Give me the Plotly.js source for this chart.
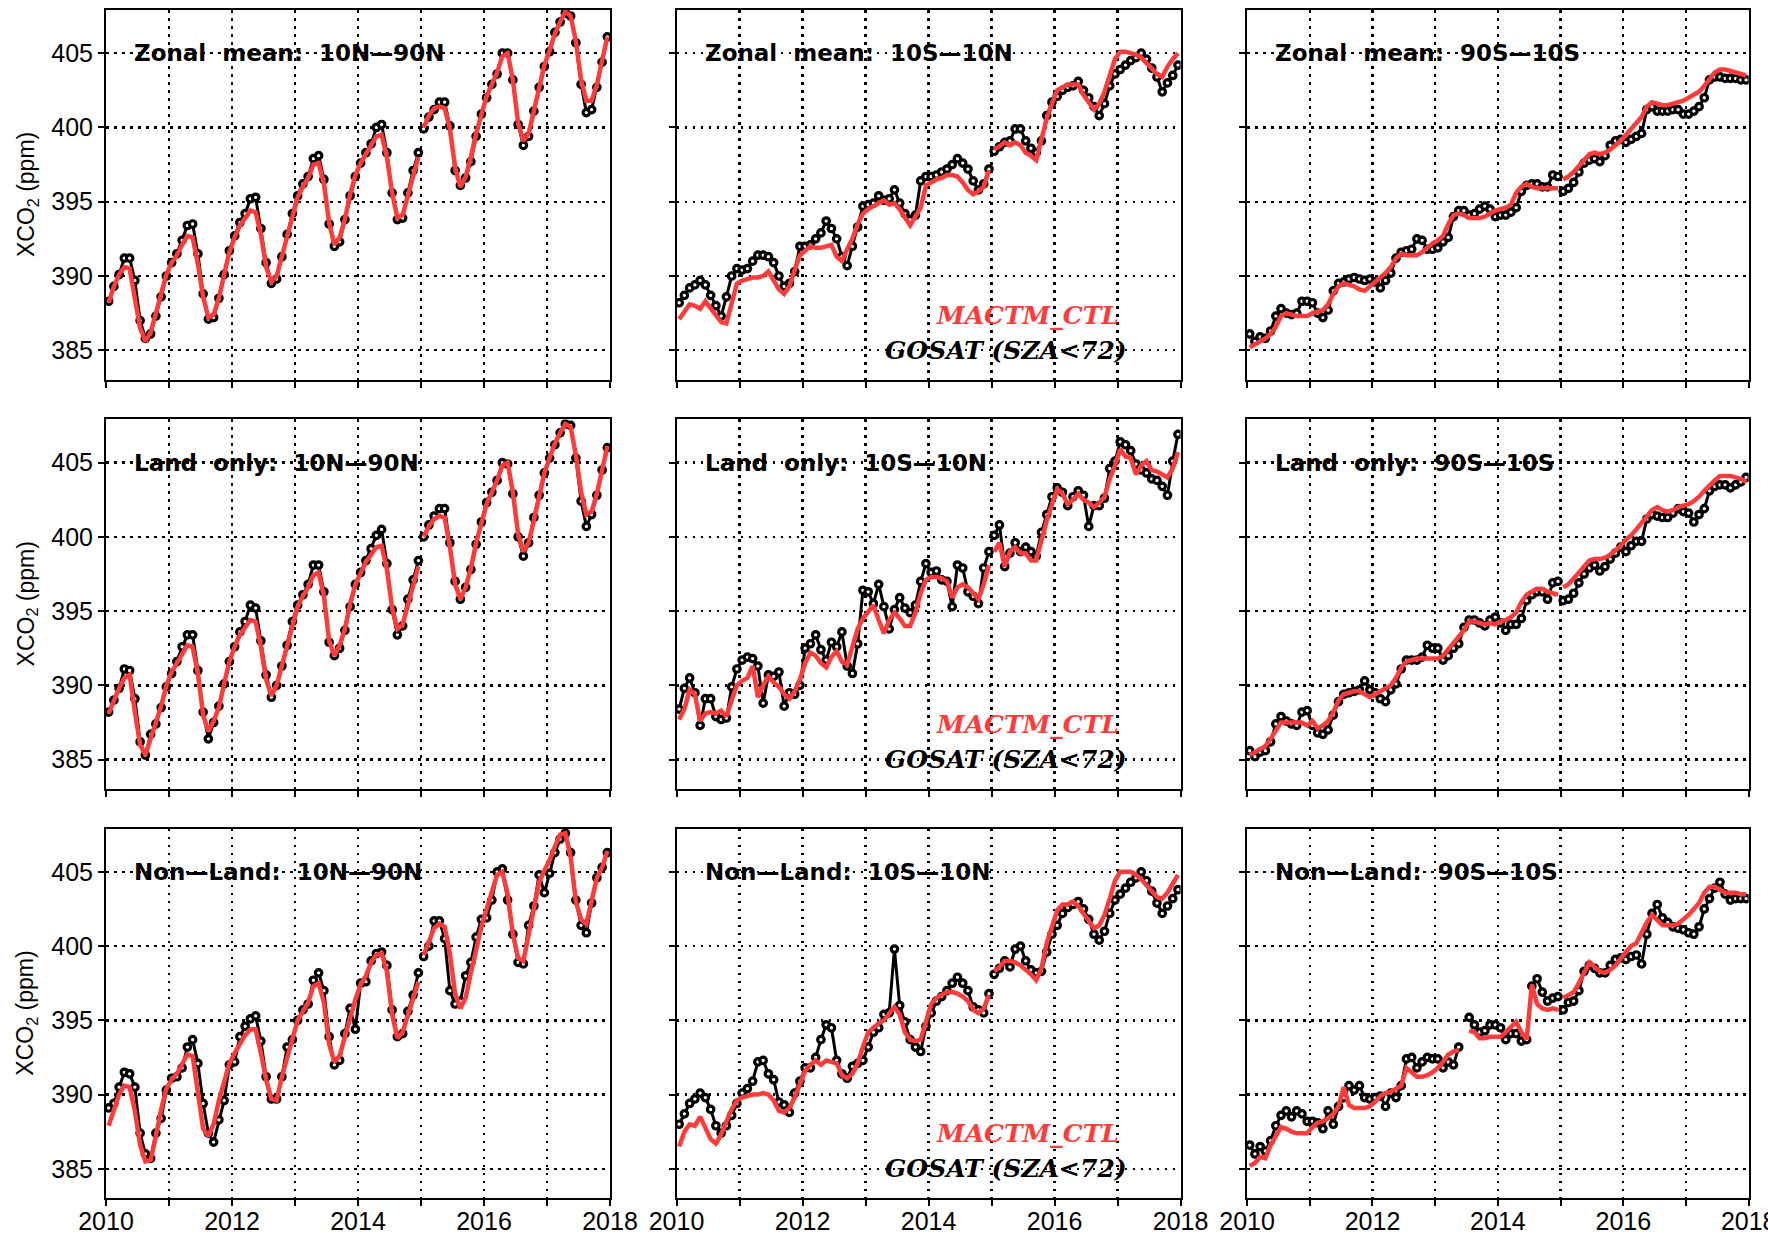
<!DOCTYPE html>
<html><head><meta charset="utf-8">
<script src="https://cdn.plot.ly/plotly-3.0.1.min.js"></script>
<style>html,body{margin:0;padding:0;background:#fff}#chart{width:1768px;height:1238px}</style>
</head><body><div id="chart"></div>
<script>
// ---- Data: monthly XCO2 (ppm), Jan 2010 .. Dec 2017 ----
const gZonNH = [
388.3,389.3,390.1,391.2,391.2,389.7,387.0,385.8,386.1,387.3,388.6,390.0,
390.9,391.5,392.4,393.4,393.5,391.5,388.8,387.1,387.2,388.5,390.1,391.7,
392.7,393.6,394.2,395.2,395.3,393.2,390.9,389.5,389.8,391.3,392.8,394.2,
395.4,396.2,396.7,397.9,398.1,396.5,393.5,392.0,392.3,393.8,395.4,396.7,
397.6,398.3,398.9,400.0,400.2,398.3,395.6,393.8,393.9,395.6,397.1,398.3,
399.9,400.7,401.2,401.7,401.7,400.1,397.1,396.1,396.6,397.7,399.4,400.9,
402.0,402.9,403.6,405.0,405.0,403.2,400.2,398.8,399.4,401.1,402.7,404.1,
405.1,406.4,407.1,407.7,407.5,405.7,402.9,401.0,401.2,402.7,404.4,406.1];
const mZonNH = [
388.2,389.3,390.1,390.6,390.5,388.5,386.5,385.6,386.2,387.5,388.8,390.1,
390.9,391.4,392.1,392.7,392.6,390.8,388.6,387.2,387.4,388.5,390.1,391.6,
392.6,393.4,393.9,394.4,394.3,392.8,390.6,389.6,390.0,391.3,392.8,394.1,
395.3,396.0,396.6,397.5,397.6,396.2,393.6,392.1,392.6,393.8,395.5,396.8,
397.6,398.2,398.8,399.4,399.5,398.0,395.6,393.9,394.1,395.5,396.9,398.0,
400.0,400.8,401.3,401.4,401.3,399.9,397.3,396.0,396.7,398.0,399.6,401.0,
402.1,402.9,403.7,404.8,405.0,403.2,400.3,399.1,399.6,401.1,402.8,404.2,
405.2,406.3,407.1,407.8,407.5,405.8,403.2,401.8,401.8,402.9,404.5,406.1];
const gZonTR = [
388.2,388.7,389.2,389.4,389.7,389.4,388.7,388.0,387.3,388.6,390.0,390.5,
390.4,390.5,391.0,391.4,391.4,391.3,390.9,390.0,389.3,389.5,390.3,392.0,
392.0,392.1,392.5,392.9,393.7,393.2,392.5,391.3,390.7,392.0,393.3,394.7,
394.8,394.9,395.4,395.1,395.2,395.8,394.9,394.2,393.8,394.1,396.4,396.7,
396.7,396.8,397.0,397.2,397.5,397.9,397.6,397.2,396.4,395.8,396.2,397.2,
398.4,398.7,399.0,399.1,399.9,399.9,399.1,398.6,398.3,399.1,400.8,401.7,
402.1,402.5,402.7,402.8,403.1,402.5,402.0,401.4,400.8,401.6,402.8,403.6,
403.9,404.2,404.5,404.7,405.0,404.6,404.0,403.4,402.4,403.0,403.5,404.2];
const mZonTR = [
387.1,387.6,388.1,388.0,387.8,388.3,387.8,387.3,386.9,386.8,388.2,389.5,
389.7,389.8,389.9,389.9,390.0,390.3,389.7,389.1,388.8,389.3,390.4,391.4,
391.7,392.0,391.9,391.9,392.0,392.1,391.3,391.0,391.8,392.5,393.5,394.2,
394.5,394.7,394.9,395.1,394.8,394.9,394.5,393.9,393.4,394.0,394.6,396.1,
396.3,396.5,396.6,396.8,396.8,396.7,396.3,395.8,395.5,395.7,396.0,397.1,
398.5,398.8,399.0,398.8,399.0,398.8,398.3,398.1,397.8,399.2,400.6,401.6,
402.5,402.7,402.9,402.9,402.9,402.2,401.7,401.2,401.6,402.4,403.5,404.6,
405.1,405.1,405.0,404.9,404.7,404.3,403.9,403.6,403.4,404.1,404.6,405.0];
const gZonSH = [
386.1,385.6,385.9,385.8,386.3,387.3,387.8,387.5,387.4,387.5,388.3,388.3,
388.2,387.5,387.2,387.7,389.0,389.5,389.6,389.8,389.9,389.8,389.7,389.8,
389.6,389.2,389.7,390.2,391.2,391.6,391.7,391.8,392.5,392.4,391.8,391.8,
391.9,392.3,392.6,394.0,394.4,394.4,394.1,394.2,394.5,394.7,394.5,394.0,
394.1,394.1,394.3,394.6,395.7,396.1,396.2,396.2,396.0,396.0,396.8,396.7,
395.7,395.9,396.3,397.0,397.6,397.8,397.9,397.7,398.1,398.8,399.1,399.2,
399.0,399.2,399.4,399.6,401.2,401.4,401.1,401.1,401.1,401.2,401.2,400.9,
400.9,401.1,401.4,402.0,403.2,403.4,403.4,403.3,403.3,403.3,403.2,403.2];
const mZonSH = [
385.2,385.4,385.6,385.8,386.1,386.6,387.3,387.5,387.4,387.3,387.3,387.3,
387.5,387.6,387.7,388.1,388.8,389.3,389.5,389.4,389.3,389.1,389.0,389.3,
389.6,389.9,390.2,390.6,391.2,391.5,391.4,391.4,391.4,391.6,391.9,392.2,
392.4,392.7,393.5,394.1,394.2,394.1,393.9,393.9,393.9,394.0,394.2,394.4,
394.5,394.6,394.8,395.6,396.0,396.2,396.0,395.9,395.9,395.9,395.9,395.9,
396.5,396.7,397.0,397.4,397.8,398.2,398.3,398.2,398.3,398.5,398.8,399.1,
399.5,399.9,400.3,400.7,401.4,401.7,401.6,401.5,401.5,401.6,401.7,401.8,
402.0,402.2,402.4,402.8,403.3,403.7,403.9,403.9,403.8,403.7,403.6,403.5];
const gLndNH = [
388.2,389.0,389.8,391.1,391.0,389.1,386.2,385.3,386.7,387.4,388.5,389.9,
390.8,391.6,392.6,393.4,393.4,391.0,388.2,386.4,387.5,388.6,390.1,391.6,
392.6,393.6,394.3,395.4,395.2,393.0,390.7,389.2,390.0,391.3,392.7,394.3,
395.4,396.1,396.8,398.1,398.1,396.3,392.9,392.0,392.5,393.7,395.3,396.8,
397.6,398.4,399.2,400.1,400.5,398.2,395.1,393.4,394.0,395.8,397.1,398.4,
400.0,400.8,401.4,401.9,401.9,399.6,397.0,395.8,396.6,397.8,399.5,401.0,
402.3,403.0,403.8,405.0,404.9,402.9,400.0,398.7,399.6,401.3,402.8,404.3,
405.3,406.2,407.0,407.6,407.5,405.3,402.4,400.7,401.5,402.8,404.5,406.0];
const mLndNH = [
388.1,389.0,389.8,390.5,390.7,388.2,386.0,385.3,386.4,387.5,388.6,390.0,
390.9,391.5,392.1,392.7,392.6,390.8,388.0,386.9,387.6,388.5,390.1,391.6,
392.6,393.4,393.9,394.4,394.3,392.6,390.4,389.3,390.0,391.3,392.8,394.1,
395.3,396.0,396.6,397.4,397.6,396.0,393.0,392.0,392.7,393.8,395.5,396.8,
397.6,398.3,398.8,399.3,399.4,397.8,395.2,393.8,394.1,395.5,396.9,398.0,
400.0,400.7,401.2,401.4,401.3,399.3,396.8,395.8,396.6,397.9,399.6,401.0,
402.2,403.0,403.8,404.8,405.0,403.0,400.2,399.0,399.6,401.1,402.8,404.3,
405.3,406.3,407.0,407.6,407.4,405.5,403.0,401.5,401.7,402.9,404.5,406.1];
const gLndTR = [
388.4,389.8,390.5,389.5,387.3,389.1,389.1,387.9,387.7,387.8,389.9,391.1,
391.7,391.9,391.8,391.3,388.8,390.7,390.6,390.9,388.6,389.5,389.4,390.0,
392.5,392.8,393.4,392.4,391.7,392.9,392.6,393.6,391.3,390.8,392.8,396.4,
396.3,395.5,396.8,395.3,393.8,395.1,395.9,395.2,394.9,395.4,397.0,398.2,
397.6,397.7,397.1,397.0,395.3,398.1,397.9,396.3,396.0,395.5,397.9,399.0,
400.1,400.8,398.0,398.9,399.6,399.0,399.3,399.0,398.7,400.3,401.5,402.7,
403.3,403.0,402.1,402.7,403.1,402.8,400.7,402.1,402.1,402.6,404.6,405.1,
406.4,406.2,405.8,404.9,404.5,404.3,403.9,403.8,403.4,402.8,405.1,406.9];
const mLndTR = [
387.7,388.4,389.7,389.4,387.6,388.1,388.2,388.1,388.3,387.9,389.0,390.0,
390.3,390.5,391.3,389.2,390.0,390.6,390.2,389.9,389.4,389.1,389.6,390.4,
391.5,392.2,392.0,391.5,391.2,391.9,392.3,391.6,391.4,392.5,393.8,394.5,
394.9,395.4,394.4,393.5,394.4,394.9,394.5,394.0,394.0,394.9,396.2,397.1,
397.3,397.3,397.2,397.0,395.9,396.6,396.8,396.6,396.2,395.8,396.8,398.1,
399.0,399.6,398.0,399.0,399.3,398.9,398.9,398.4,398.4,399.8,401.1,402.2,
403.2,402.9,402.2,402.5,402.9,402.5,402.3,402.0,402.3,402.7,403.9,404.8,
405.9,405.4,405.3,404.2,404.8,405.1,404.5,404.4,404.2,404.0,404.6,405.7];
const gLndSH = [
385.6,385.2,385.5,385.6,386.2,387.4,387.9,387.6,387.4,387.3,388.2,388.3,
387.3,386.8,386.7,387.0,388.0,388.9,389.4,389.5,389.6,389.7,390.3,389.7,
389.5,389.1,388.9,389.7,390.1,391.1,391.7,391.7,391.7,391.9,392.7,392.5,
392.5,391.7,392.0,392.5,392.8,393.9,394.4,394.4,394.2,394.0,394.4,394.6,
394.2,393.7,394.1,394.1,394.5,395.7,396.1,396.3,396.3,395.8,396.9,397.0,
395.7,395.8,396.2,396.9,397.5,397.9,398.1,397.7,398.0,398.5,398.9,399.3,
399.0,399.4,399.7,399.7,401.2,401.5,401.4,401.3,401.3,401.6,401.9,401.7,
401.6,401.0,401.5,401.9,403.1,403.4,403.5,403.5,403.3,403.5,403.7,404.0];
const mLndSH = [
385.3,385.5,385.7,385.9,386.4,387.0,387.5,387.5,387.5,387.5,387.5,387.3,
387.6,387.1,387.3,387.6,388.2,389.0,389.4,389.5,389.6,389.6,389.4,389.2,
389.4,389.6,389.8,390.0,390.5,391.2,391.6,391.7,391.8,391.8,391.8,391.8,
391.8,392.0,392.4,392.8,393.2,393.7,394.3,394.3,394.2,394.1,394.2,394.1,
394.3,394.4,394.6,394.9,395.6,396.1,396.3,396.5,396.5,396.3,396.2,396.1,
396.6,396.8,397.2,397.6,398.0,398.4,398.5,398.5,398.6,398.8,399.1,399.4,
399.8,400.1,400.5,400.9,401.4,401.8,402.0,401.8,401.7,401.8,402.0,402.1,
402.2,402.4,402.7,403.1,403.5,403.8,404.1,404.1,404.1,404.0,403.9,403.7];
const gNonNH = [
389.1,389.4,390.5,391.5,391.4,390.5,387.4,386.0,385.7,387.4,388.4,390.3,
391.1,391.2,391.8,393.2,393.7,392.1,389.4,387.4,386.8,388.3,389.6,392.0,
392.2,393.9,394.6,395.1,395.3,393.6,391.2,389.7,389.7,391.2,393.2,393.7,
395.0,395.7,396.1,397.7,398.2,397.0,393.9,392.0,392.3,394.1,395.8,394.4,
397.5,397.6,399.0,399.5,399.6,398.7,395.7,393.9,394.1,395.6,396.7,398.2,
399.3,400.0,401.7,401.7,400.5,397.0,396.1,396.3,398.0,398.9,400.6,401.8,
401.9,403.1,405.0,405.2,403.1,400.8,398.9,398.8,401.4,402.7,404.8,403.6,
404.9,406.3,407.2,407.6,406.3,403.1,401.4,400.9,402.9,404.6,405.3,406.3];
const mNonNH = [
387.9,388.9,390.0,390.6,390.5,388.9,386.6,385.5,385.6,387.2,389.0,390.4,
391.0,391.4,392.0,392.7,392.6,390.3,387.7,387.2,388.0,389.6,391.0,392.1,
392.8,393.4,394.0,394.4,394.4,392.8,391.0,389.7,389.6,391.2,392.5,393.7,
395.0,395.6,396.2,397.3,397.5,396.2,393.4,392.2,392.6,393.9,395.3,396.4,
397.4,398.0,398.9,399.4,399.5,398.3,395.4,393.8,394.2,395.4,396.6,397.6,
399.4,400.4,401.2,401.5,401.3,399.5,396.8,395.8,396.5,398.2,399.8,401.3,
402.5,403.6,404.8,405.0,403.5,400.8,399.2,399.0,400.9,402.8,404.3,405.1,
405.8,406.7,407.5,407.6,406.0,403.0,401.8,401.5,402.9,404.6,405.3,406.4];
const gNonTR = [
388.0,388.7,389.4,389.7,390.1,389.8,389.0,387.9,387.4,387.9,388.6,389.4,
390.1,390.4,390.9,392.2,392.3,391.4,391.0,389.5,389.3,388.8,390.1,390.9,
391.8,391.8,392.5,393.7,394.7,394.5,392.3,391.4,391.1,391.9,392.1,392.3,
393.2,394.2,394.5,395.4,395.5,399.8,396.0,394.9,393.7,393.2,392.9,394.6,
395.5,396.3,396.6,397.0,397.5,397.9,397.5,397.0,395.9,395.7,395.5,396.8,
398.1,398.5,399.0,398.6,399.8,400.0,399.0,398.4,398.2,398.3,399.6,400.8,
401.4,402.2,402.6,402.8,403.0,402.5,401.8,400.8,400.4,401.0,402.2,403.1,
403.5,403.9,404.3,404.6,405.0,404.4,403.7,402.9,402.2,402.7,403.2,403.8];
const mNonTR = [
386.5,387.5,388.0,387.9,388.5,387.8,387.0,386.7,387.3,388.2,389.0,389.6,
389.8,389.9,390.0,390.0,390.1,390.0,389.6,388.9,388.8,389.1,389.8,390.7,
391.6,392.0,392.3,392.0,392.3,392.2,392.1,391.3,391.1,391.4,392.1,393.2,
394.2,394.5,394.8,395.0,395.4,395.9,395.4,394.2,393.7,393.6,393.7,395.0,
396.1,396.5,396.7,396.9,396.9,396.8,396.6,396.3,395.7,395.5,395.8,396.7,
398.3,398.6,399.0,399.0,398.9,398.7,398.4,398.1,397.7,398.5,400.2,401.4,
402.4,402.8,402.8,403.0,402.7,402.2,401.7,401.2,401.4,402.1,403.2,404.4,
405.0,405.0,405.0,404.8,404.5,404.1,403.7,403.3,403.2,403.6,404.2,404.8];
const gNonSH = [
386.6,386.0,386.5,386.2,386.9,387.9,388.6,388.9,388.5,388.9,388.7,388.2,
388.2,388.1,387.7,388.9,388.0,389.2,389.8,390.6,390.3,390.6,389.8,389.7,
389.8,389.9,389.2,390.1,389.8,390.6,392.4,392.5,391.8,392.2,392.5,392.4,
392.4,391.8,392.2,392.0,393.2,null,395.2,394.7,394.2,394.3,394.7,394.7,
394.5,393.7,394.1,394.1,393.6,393.7,397.3,397.8,396.9,396.3,396.5,396.6,
395.7,396.2,396.3,397.0,398.3,398.7,398.5,398.2,398.2,398.7,399.1,399.2,
399.1,399.3,399.4,398.8,400.8,402.2,402.8,401.9,401.6,401.3,401.2,401.1,
400.9,400.8,401.3,402.5,403.2,403.9,404.3,403.5,403.1,403.2,403.2,403.2];
const mNonSH = [
385.2,385.4,385.8,385.7,386.6,387.2,387.8,387.7,387.5,387.4,387.4,387.4,
387.8,388.1,388.2,388.4,388.7,389.2,390.5,389.3,389.1,389.1,389.1,389.2,
389.5,389.9,390.1,390.2,390.4,390.6,391.8,391.5,391.2,391.2,391.3,391.5,
391.8,392.2,392.7,392.9,393.0,null,394.3,394.2,393.8,393.8,393.9,393.9,
393.9,394.2,394.6,394.9,394.2,393.7,397.4,396.1,395.8,395.7,395.8,395.7,
396.5,396.7,396.9,397.5,398.2,398.9,398.6,398.3,398.2,398.4,398.7,399.2,
399.6,400.0,400.2,400.9,401.6,402.1,401.8,401.4,401.4,401.4,401.5,401.8,
402.1,402.5,402.9,403.6,404.0,404.0,403.8,403.6,403.6,403.6,403.5,403.5];

const panelLabels = [
  'Zonal\u00a0 mean:\u00a0 10N\u201490N', 'Zonal\u00a0 mean:\u00a0 10S\u201410N', 'Zonal\u00a0 mean:\u00a0 90S\u201410S',
  'Land\u00a0 only:\u00a0 10N\u201490N', 'Land\u00a0 only:\u00a0 10S\u201410N', 'Land\u00a0 only:\u00a0 90S\u201410S',
  'Non\u2014Land:\u00a0 10N\u201490N', 'Non\u2014Land:\u00a0 10S\u201410N', 'Non\u2014Land:\u00a0 90S\u201410S'];
const gosatSeries = [gZonNH, gZonTR, gZonSH, gLndNH, gLndTR, gLndSH, gNonNH, gNonTR, gNonSH];
const modelSeries = [mZonNH, mZonTR, mZonSH, mLndNH, mLndTR, mLndSH, mNonNH, mNonTR, mNonSH];
const modelName = 'MACTM_CTL';
const obsName = 'GOSAT (SZA&lt;72)';
const yearTicks = [2010, 2011, 2012, 2013, 2014, 2015, 2016, 2017, 2018];
const yearLabels = ['2010', '', '2012', '', '2014', '', '2016', '', '2018'];
const ppmTicks = [385, 390, 395, 400, 405];
const breakBefore = [60]; // line break between Dec 2014 and Jan 2015

// ---- Layout geometry ----
const colDomains = [[0.05996, 0.34502], [0.38264, 0.66777], [0.70537, 0.98908]];
const rowDomains = [[0.69305, 0.99184], [0.36244, 0.66115], [0.03191, 0.33053]];
const RED = '#ff3b3b';
const tickFont = {family: 'Liberation Sans, Arial, sans-serif', size: 25, color: '#000'};

function segmented(vals) {
  const x = [], y = [];
  vals.forEach((v, i) => {
    if (breakBefore.includes(i)) { x.push(2010 + i / 12); y.push(null); }
    x.push(2010 + (i + 0.5) / 12); y.push(v);
  });
  return {x, y};
}

const traces = [];
const layout = {
  width: 1768, height: 1238,
  margin: {l: 0, r: 0, t: 0, b: 0},
  paper_bgcolor: '#fff', plot_bgcolor: '#fff',
  showlegend: false,
  annotations: []
};

for (let k = 0; k < 9; k++) {
  const r = Math.floor(k / 3), c = k % 3;
  const s = k === 0 ? '' : String(k + 1);
  const g = segmented(gosatSeries[k]);
  const m = segmented(modelSeries[k]);
  traces.push({
    x: g.x, y: g.y, xaxis: 'x' + s, yaxis: 'y' + s, type: 'scatter', mode: 'lines+markers',
    line: {color: '#000', width: 3}, connectgaps: false,
    marker: {symbol: 'circle', size: 6.5, color: '#fff', line: {color: '#000', width: 3.2}},
    hoverinfo: 'skip'
  });
  traces.push({
    x: m.x, y: m.y, xaxis: 'x' + s, yaxis: 'y' + s, type: 'scatter', mode: 'lines',
    line: {color: RED, width: 4.5}, connectgaps: false, hoverinfo: 'skip'
  });
  const common = {
    showgrid: true, gridcolor: '#000', gridwidth: 2.4, griddash: '2.5px,5.5px',
    showline: true, mirror: true, linecolor: '#000', linewidth: 2,
    ticks: 'outside', ticklen: 6, tickwidth: 2, tickcolor: '#000',
    zeroline: false, tickfont: tickFont, fixedrange: true
  };
  layout['xaxis' + s] = Object.assign({}, common, {
    domain: colDomains[c], anchor: 'y' + s, range: [2010, 2018],
    tickmode: 'array', tickvals: yearTicks, ticktext: yearLabels,
    showticklabels: r === 2, ticklabeloverflow: 'allow', ticklabelstandoff: -6
  });
  layout['yaxis' + s] = Object.assign({}, common, {
    domain: rowDomains[r], anchor: 'x' + s, range: [383, 407.9],
    tickmode: 'array', tickvals: ppmTicks, showticklabels: c === 0
  });
  layout.annotations.push({
    xref: 'x' + s + ' domain', yref: 'y' + s, x: 0.052, y: 405,
    xanchor: 'left', yanchor: 'middle', showarrow: false,
    text: panelLabels[k],
    font: {family: 'DejaVu Sans, sans-serif', size: 23, color: '#000', weight: 'bold'}
  });
  if (c === 0) {
    layout.annotations.push({
      xref: 'paper', yref: 'y' + s + ' domain', x: 27 / 1768, y: 0.5,
      xanchor: 'center', yanchor: 'middle', textangle: -90, showarrow: false,
      text: 'XCO<sub>2</sub> (ppm)',
      font: {family: 'Liberation Sans, Arial, sans-serif', size: 23, color: '#000'}
    });
  }
  if (c === 1) {
    layout.annotations.push({
      xref: 'x' + s + ' domain', yref: 'y' + s, x: 0.697, y: 387.35,
      xanchor: 'center', yanchor: 'middle', showarrow: false, text: modelName,
      font: {family: 'DejaVu Serif, serif', size: 25, color: RED, weight: 'bold', style: 'italic'}
    });
    layout.annotations.push({
      xref: 'x' + s + ' domain', yref: 'y' + s, x: 0.654, y: 385,
      xanchor: 'center', yanchor: 'middle', showarrow: false, text: obsName,
      font: {family: 'DejaVu Serif, serif', size: 25, color: '#000', weight: 'bold', style: 'italic'}
    });
  }
}

Plotly.newPlot('chart', traces, layout, {displayModeBar: false, staticPlot: true});
</script>
</body></html>
